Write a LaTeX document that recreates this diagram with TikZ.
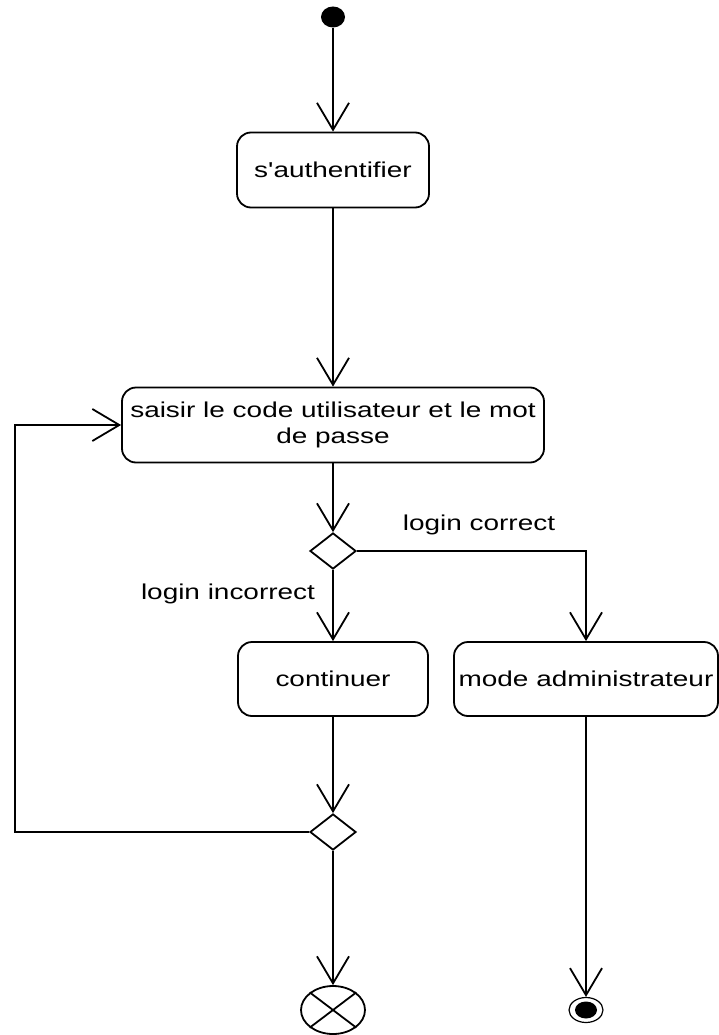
\documentclass[tikz,border=0pt]{standalone}
\usepackage{fontspec}
\setmainfont{Liberation Sans}
\usetikzlibrary{shapes.geometric,arrows.meta}
% text is set slightly widened
\newcommand{\wtxt}[1]{\scalebox{1.3}[1]{#1}}

\begin{document}
\begin{tikzpicture}[x=1pt,y=-1pt,
  every node/.style={font=\fontsize{21.5}{26}\selectfont},
  action/.style={draw, line width=1.8pt, rounded corners=14pt, minimum height=75pt, inner sep=0pt},
  decision/.style={draw, diamond, line width=1.8pt, minimum width=46pt, minimum height=36pt, inner sep=0pt},
  flow/.style={line width=1.8pt, -{Straight Barb[length=27pt,width=32pt,line width=1.8pt]}},
  plain/.style={line width=1.8pt}
]
\useasboundingbox (0,0) rectangle (719,1035);

% start
\node[ellipse, fill=black, minimum width=24pt, minimum height=21pt, inner sep=0pt] (init) at (333,17) {};

% actions
\node[action, minimum width=192pt] (auth) at (333,170) {\wtxt{s\textquotesingle authentifier}};
\node[action, minimum width=422pt] (saisir) at (333,425)
  {\wtxt{\begin{tabular}{@{}c@{}}saisir le code utilisateur et le mot\\de passe\end{tabular}}};
\node[action, minimum width=190pt, minimum height=74pt] (cont) at (333,679) {\wtxt{continuer}};
\node[action, minimum width=264pt, minimum height=74pt] (admin) at (586,679) {\wtxt{mode administrateur}};

% decisions
\node[decision] (dec1) at (333,551) {};
\node[decision] (dec2) at (333,832) {};

% ends
\node[ellipse, draw, line width=1.8pt, minimum width=64pt, minimum height=48pt, inner sep=0pt] (ff) at (333,1010) {};
\draw[plain] (ff.north east) -- (ff.south west);
\draw[plain] (ff.north west) -- (ff.south east);
\node[ellipse, draw, line width=1.2pt, minimum width=34pt, minimum height=25pt, inner sep=0pt] (final) at (586,1010) {};
\node[ellipse, fill=black, minimum width=22pt, minimum height=17pt, inner sep=0pt] (finaldot) at (586,1010) {};

% guards
\node (lc) at (479,525) {\wtxt{login correct}};
\node (li) at (228,594) {\wtxt{login incorrect}};

% transitions
\coordinate (loop) at (15,832);
\draw[flow] (init) -- (auth);
\draw[flow] (auth) -- (saisir);
\draw[flow] (saisir) -- (dec1);
\draw[flow] (dec1) -- (cont);
\draw[flow] (dec1.east) -| (admin.north);
\draw[flow] (cont) -- (dec2);
\draw[flow] (dec2.west) -- (loop) |- (saisir.west);
\draw[flow] (dec2) -- (ff);
\draw[flow] (admin) -- (final);
\end{tikzpicture}
\end{document}
